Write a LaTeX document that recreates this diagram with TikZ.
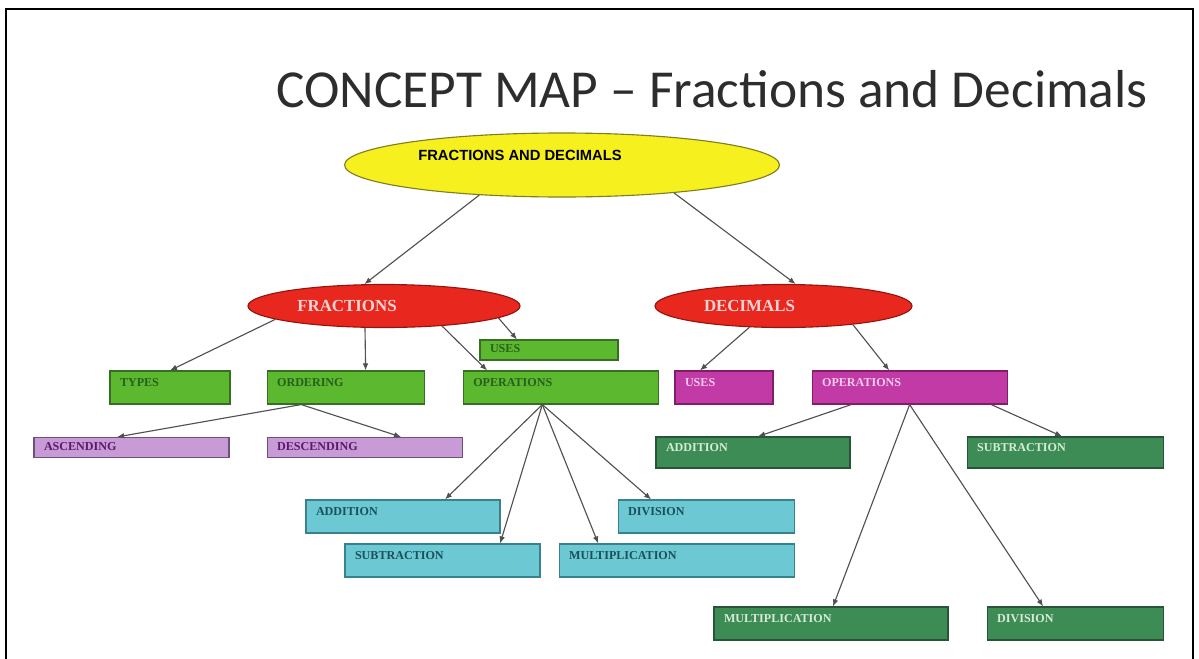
\documentclass[tikz,border=0pt]{standalone}
\usepackage{fontspec}
\setmainfont{Liberation Serif}
\newfontfamily\titlefont{Carlito}
\newfontfamily\rootfont{Liberation Sans}
\usetikzlibrary{arrows.meta, positioning, shapes.geometric}
\definecolor{rootyellow}{RGB}{246,240,30}
\definecolor{rootedge}{RGB}{130,125,30}
\definecolor{headred}{RGB}{232,40,30}
\definecolor{headedge}{RGB}{150,20,15}
\definecolor{headtext}{RGB}{248,212,212}
\definecolor{leafgreen}{RGB}{92,184,46}
\definecolor{leafgreenedge}{RGB}{55,110,35}
\definecolor{leafgreentext}{RGB}{40,95,30}
\definecolor{leafpurple}{RGB}{194,58,166}
\definecolor{leafpurpleedge}{RGB}{130,30,105}
\definecolor{leafpurpletext}{RGB}{242,205,235}
\definecolor{leaflilac}{RGB}{200,155,215}
\definecolor{leaflilacedge}{RGB}{110,80,125}
\definecolor{leaflilactext}{RGB}{90,25,105}
\definecolor{leafcyan}{RGB}{108,200,210}
\definecolor{leafcyanedge}{RGB}{55,130,140}
\definecolor{leafcyantext}{RGB}{25,80,90}
\definecolor{leafdark}{RGB}{61,140,85}
\definecolor{leafdarkedge}{RGB}{40,85,55}
\definecolor{leafdarktext}{RGB}{215,235,215}
\definecolor{linegray}{RGB}{80,80,80}
\definecolor{titlegray}{RGB}{45,45,45}
\tikzstyle{concept} = [draw, ellipse, line width=0.8pt, inner sep=0pt]
\tikzstyle{block} = [draw, rectangle, line width=0.8pt, inner xsep=0.25cm,
    align=left, font=\bfseries\fontsize{8.6}{9}\selectfont, minimum height=0.825cm,
    text height=5pt, text depth=7pt]
\tikzstyle{thinblock} = [block, minimum height=0.5cm, text height=5pt, text depth=1pt]
\tikzstyle{greenblock} = [fill=leafgreen, draw=leafgreenedge, text=leafgreentext]
\tikzstyle{purpleblock} = [fill=leafpurple, draw=leafpurpleedge, text=leafpurpletext]
\tikzstyle{lilacblock} = [fill=leaflilac, draw=leaflilacedge, text=leaflilactext]
\tikzstyle{cyanblock} = [fill=leafcyan, draw=leafcyanedge, text=leafcyantext]
\tikzstyle{darkblock} = [fill=leafdark, draw=leafdarkedge, text=leafdarktext]
\tikzstyle{arrow} = [-{Latex[length=5pt,width=4pt]}, draw=linegray, line width=0.8pt]
\begin{document}
\begin{tikzpicture}
    \useasboundingbox (0,0) rectangle (29.975,-16.45);
    \draw [line width=2pt] (0.15,-16.6) -- (0.15,-0.225) -- (29.825,-0.225) -- (29.825,-16.6);

    % Title
    \node [anchor=base, text=titlegray, font=\titlefont\fontsize{38}{40}\selectfont]
        (title) at (17.8,-2.675) {CONCEPT MAP – Fractions and Decimals};

    % Place the ellipses
    \node [concept, fill=rootyellow, draw=rootedge, minimum width=10.875cm, minimum height=1.6cm,
        label={[shift={(-1.05cm,0.25cm)}, font=\rootfont\bfseries\fontsize{10.5}{12}\selectfont]center:FRACTIONS AND DECIMALS}]
        (root) at (14.05,-4.125) {};
    \node [concept, fill=headred, draw=headedge, minimum width=6.8cm, minimum height=1.075cm,
        label={[xshift=-0.925cm, text=headtext, font=\bfseries\fontsize{12}{13}\selectfont]center:FRACTIONS}]
        (fractions) at (9.6,-7.65) {};
    \node [concept, fill=headred, draw=headedge, minimum width=6.425cm, minimum height=1.075cm,
        label={[xshift=-0.85cm, text=headtext, font=\bfseries\fontsize{12}{13}\selectfont]center:DECIMALS}]
        (decimals) at (19.5875,-7.65) {};

    % Place the blocks under FRACTIONS
    \node [thinblock, greenblock, text width=2.95cm] (uses) at (13.725,-8.75) {USES};
    \node [block, greenblock, text width=2.5cm] (types) at (4.25,-9.6875) {TYPES};
    \node [block, greenblock, text width=3.425cm, right=0.9cm of types] (ordering) {ORDERING};
    \node [block, greenblock, text width=4.375cm, right=0.95cm of ordering] (operations) {OPERATIONS};
    \node [thinblock, lilacblock, text width=4.375cm] (ascending) at (3.2875,-11.1875) {ASCENDING};
    \node [thinblock, lilacblock, text width=4.375cm, right=0.925cm of ascending] (descending) {DESCENDING};
    \node [block, cyanblock, text width=4.35cm] (addition) at (10.075,-12.9125) {ADDITION};
    \node [block, cyanblock, text width=3.9cm, right=2.925cm of addition] (division) {DIVISION};
    \node [block, cyanblock, text width=4.375cm] (subtraction) at (11.0625,-14.0125) {SUBTRACTION};
    \node [block, cyanblock, text width=5.375cm, right=0.45cm of subtraction] (multiplication) {MULTIPLICATION};

    % Place the blocks under DECIMALS
    \node [block, purpleblock, text width=1.95cm] (decuses) at (18.1,-9.6875) {USES};
    \node [block, purpleblock, text width=4.375cm, right=0.95cm of decuses] (decoperations) {OPERATIONS};
    \node [block, darkblock, text width=4.35cm, minimum height=0.775cm] (decaddition) at (18.825,-11.3125) {ADDITION};
    \node [block, darkblock, text width=4.4cm, minimum height=0.775cm, right=2.9cm of decaddition] (decsubtraction) {SUBTRACTION};
    \node [block, darkblock, text width=5.35cm] (decmultiplication) at (20.775,-15.5875) {MULTIPLICATION};
    \node [block, darkblock, text width=3.9cm, right=0.95cm of decmultiplication] (decdivision) {DIVISION};

    % Connect the nodes
    \draw [arrow] (root.200) -- (fractions.132);
    \draw [arrow] (root.346) -- (decimals.61);
    \draw [arrow] (fractions.187) -- (types.north);
    \draw [arrow] ([xshift=-0.475cm]fractions.south) -- ([xshift=0.5cm]ordering.north);
    \draw [arrow] (fractions.-19) -- ([xshift=-1.84cm]operations.north);
    \draw [arrow] (fractions.-6) -- ([xshift=-0.8cm]uses.north);
    \draw [arrow] (decimals.212) -- ([xshift=-0.6cm]decuses.north);
    \draw [arrow] (decimals.-15) -- ([xshift=-0.51cm]decoperations.north);
    \draw [arrow] ([xshift=-1.11cm]ordering.south) -- ([xshift=-0.36cm]ascending.north);
    \draw [arrow] ([xshift=-1.11cm]ordering.south) -- ([xshift=0.91cm]descending.north);
    \draw [arrow] ([xshift=-0.46cm]operations.south) -- ([xshift=1.05cm]addition.north);
    \draw [arrow] ([xshift=-0.46cm]operations.south) -- ([xshift=1.44cm]subtraction.north);
    \draw [arrow] ([xshift=-0.46cm]operations.south) -- ([xshift=-1.96cm]multiplication.north);
    \draw [arrow] ([xshift=-0.46cm]operations.south) -- ([xshift=-1.375cm]division.north);
    \draw [arrow] ([xshift=-1.46cm]decoperations.south) -- ([xshift=0.125cm]decaddition.north);
    \draw [arrow] ([xshift=2.04cm]decoperations.south) -- ([xshift=-0.075cm]decsubtraction.north);
    \draw [arrow] (decoperations.south) -- ([xshift=0.05cm]decmultiplication.north);
    \draw [arrow] (decoperations.south) -- ([xshift=-0.8cm]decdivision.north);
\end{tikzpicture}
\end{document}
